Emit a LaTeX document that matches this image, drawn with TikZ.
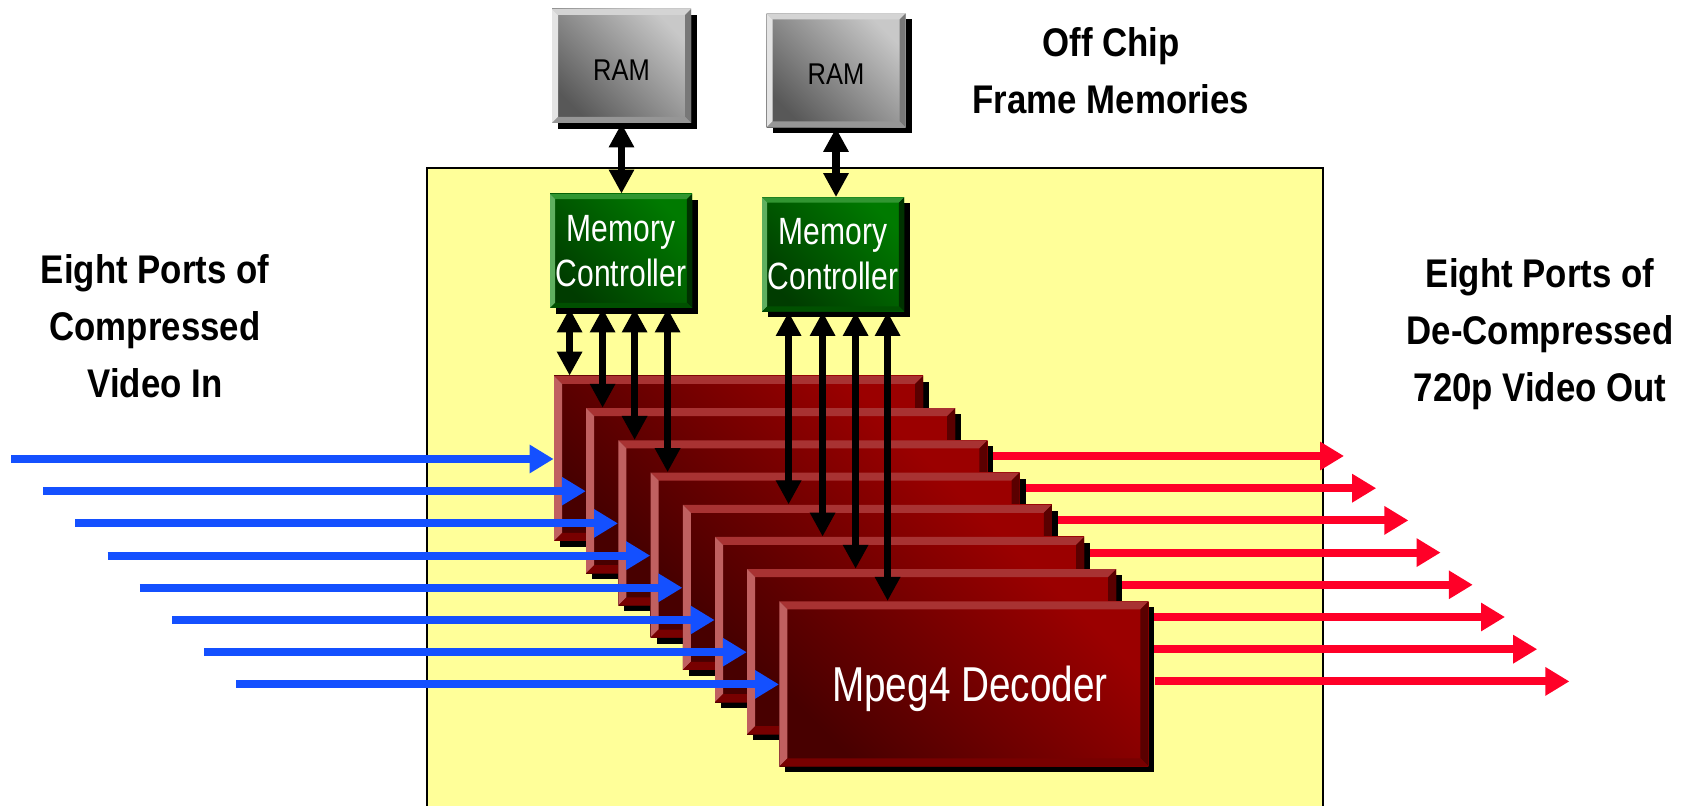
\documentclass[tikz,border=0pt]{standalone}
\usepackage{fontspec}
\setmainfont{Liberation Sans}
\newfontfamily\lblfont[FakeStretch=0.87]{Liberation Sans}
\newfontfamily\ramfont[FakeStretch=0.85]{Liberation Sans}
\newfontfamily\mcfont[FakeStretch=0.79]{Liberation Sans}
\newfontfamily\decfont[FakeStretch=0.79]{Liberation Sans}
\usetikzlibrary{arrows.meta,shadows,calc}

\definecolor{chipyellow}{RGB}{255,255,153}
\definecolor{inblue}{RGB}{20,80,255}
\definecolor{outred}{RGB}{255,0,40}
\definecolor{ramlight}{RGB}{200,200,200}
\definecolor{ramdark}{RGB}{88,88,88}
\definecolor{ramtop}{RGB}{212,212,212}
\definecolor{ramleft}{RGB}{228,228,228}
\definecolor{ramright}{RGB}{120,120,120}
\definecolor{rambot}{RGB}{150,150,150}
\definecolor{mclight}{RGB}{0,122,0}
\definecolor{mcdark}{RGB}{0,60,0}
\definecolor{mctop}{RGB}{50,150,50}
\definecolor{mcleft}{RGB}{95,175,95}
\definecolor{mcright}{RGB}{0,50,0}
\definecolor{mcbot}{RGB}{0,80,0}
\definecolor{declight}{RGB}{155,0,0}
\definecolor{decdark}{RGB}{72,0,0}
\definecolor{dectop}{RGB}{168,50,50}
\definecolor{decleft}{RGB}{192,96,96}
\definecolor{decright}{RGB}{90,0,0}
\definecolor{decbot}{RGB}{120,0,0}

\tikzset{
  bevel width/.store in=\bw, bevel width=3pt,
  bevel/.style n args={4}{path picture={
    \path (path picture bounding box.north west) coordinate (bbnw)
          (path picture bounding box.south east) coordinate (bbse);
    \fill[#1] (bbnw) -- (bbnw -| bbse) -- ([shift={(-\bw,-\bw)}]bbnw -| bbse)
       -- ([shift={(\bw,-\bw)}]bbnw) -- cycle;
    \fill[#2] (bbnw) -- ([shift={(\bw,-\bw)}]bbnw) -- ([shift={(\bw,\bw)}]bbnw |- bbse)
       -- (bbnw |- bbse) -- cycle;
    \fill[#3] (bbnw -| bbse) -- (bbse) -- ([shift={(-\bw,\bw)}]bbse)
       -- ([shift={(-\bw,-\bw)}]bbnw -| bbse) -- cycle;
    \fill[#4] (bbnw |- bbse) -- ([shift={(\bw,\bw)}]bbnw |- bbse)
       -- ([shift={(-\bw,\bw)}]bbse) -- (bbse) -- cycle;
  }},
  boxshadow/.style={drop shadow={shadow xshift=3pt,shadow yshift=-3pt,opacity=1,fill=black}},
  ramstyle/.style={rectangle, inner sep=0pt, minimum width=69.5pt, minimum height=57pt,
    bottom color=ramdark, top color=ramlight, shading angle=-45,
    bevel={ramtop}{ramleft}{ramright}{rambot}, bevel width=3pt, boxshadow,
    text height=14.5pt, text depth=0pt,
    font=\ramfont\fontsize{15}{18}\selectfont, text=black},
  mcstyle/.style={rectangle, inner sep=0pt, minimum width=71pt, minimum height=57pt,
    bottom color=mcdark, top color=mclight, shading angle=-45,
    bevel={mctop}{mcleft}{mcright}{mcbot}, bevel width=2.6pt, boxshadow,
    align=center, font=\mcfont\fontsize{19}{22.5}\selectfont, text=white},
  decstyle/.style={rectangle, inner sep=0pt, minimum width=184.5pt, minimum height=82.5pt,
    bottom color=decdark, top color=declight, shading angle=-45,
    bevel={dectop}{decleft}{decright}{decbot}, bevel width=4pt, boxshadow,
    text depth=0pt,
    font=\decfont\fontsize{24.5}{29}\selectfont, text=white},
  lbl/.style={align=center, inner sep=0pt, font=\lblfont\bfseries\fontsize{20}{28.5}\selectfont},
  dbl/.style={line width=3.6pt, {Triangle[width=12pt,length=12pt]}-{Triangle[width=12pt,length=12pt]}},
  inarrow/.style={draw=inblue, line width=4pt, -{Triangle[width=13.5pt,length=12pt]}},
  outarrow/.style={draw=outred, line width=4pt, -{Triangle[width=13.5pt,length=12pt]}}
}

\begin{document}
\begin{tikzpicture}[x=0.5pt,y=-0.5pt]
\useasboundingbox (0,0) rectangle (1686,806);
\fill[white] (0,0) rectangle (1686,806);

% chip area
\path[fill=chipyellow, draw=black, line width=1pt]
  (427,820) -- (427,168) -- (1323,168) -- (1323,820);

% labels
\node[lbl] (offchip) at (1111,71) {Off Chip\\Frame Memories};
\node[lbl] (inlbl) at (155,326) {Eight Ports of\\Compressed\\Video In};
\node[lbl] (outlbl) at (1540,334) {Eight Ports of\\De-Compressed\\720p Video Out};

% RAM and memory controllers
\node[ramstyle] (ram1) at (621.5,66) {RAM};
\node[ramstyle] (ram2) at (836,70.5) {RAM};
\node[mcstyle] (mc1) at (621,251) {Memory\\Controller};
\node[mcstyle] (mc2) at (833,254.5) {Memory\\Controller};

\draw[dbl] (ram1.south) -- (ram1.south |- mc1.north);
\draw[dbl] (ram2.south) -- (ram2.south |- mc2.north);

% decoder stack
\foreach \i in {0,...,6}{
  \node[decstyle] (D\i) at ({738.5+32.2*\i},{458.5+32.2*\i}) {};
  \coordinate (out\i) at ({1344+32.2*\i},{456+32.2*\i});
  \draw[outarrow] ([xshift=3pt]D\i.east |- out\i) -- (out\i);
  \coordinate (in\i) at ({11+32.2*\i},{459+32.2*\i});
  \draw[inarrow] (in\i) -- (in\i -| D\i.west);
}
\node[decstyle] (D7) at ({738.5+32.2*7},{458.5+32.2*7}) {\hspace*{6pt}Mpeg4 Decoder};
\coordinate (out7) at ({1344+32.2*7},{456+32.2*7});
\draw[outarrow] ([xshift=3pt]D7.east |- out7) -- (out7);
\coordinate (in7) at ({11+32.2*7},{459+32.2*7});
\draw[inarrow] (in7) -- (in7 -| D7.west);

% controller to decoder links
\draw[dbl] ([xshift=10pt]mc1.south west) -- ([xshift=10pt]mc1.south west |- D0.north);
\draw[dbl] ([xshift=26.5pt]mc1.south west) -- ([xshift=26.5pt]mc1.south west |- D1.north);
\draw[dbl] ([xshift=42.5pt]mc1.south west) -- ([xshift=42.5pt]mc1.south west |- D2.north);
\draw[dbl] ([xshift=59pt]mc1.south west) -- ([xshift=59pt]mc1.south west |- D3.north);
\draw[dbl] ([xshift=13.5pt]mc2.south west) -- ([xshift=13.5pt]mc2.south west |- D4.north);
\draw[dbl] ([xshift=30.5pt]mc2.south west) -- ([xshift=30.5pt]mc2.south west |- D5.north);
\draw[dbl] ([xshift=47pt]mc2.south west) -- ([xshift=47pt]mc2.south west |- D6.north);
\draw[dbl] ([xshift=63pt]mc2.south west) -- ([xshift=63pt]mc2.south west |- D7.north);
\end{tikzpicture}
\end{document}
